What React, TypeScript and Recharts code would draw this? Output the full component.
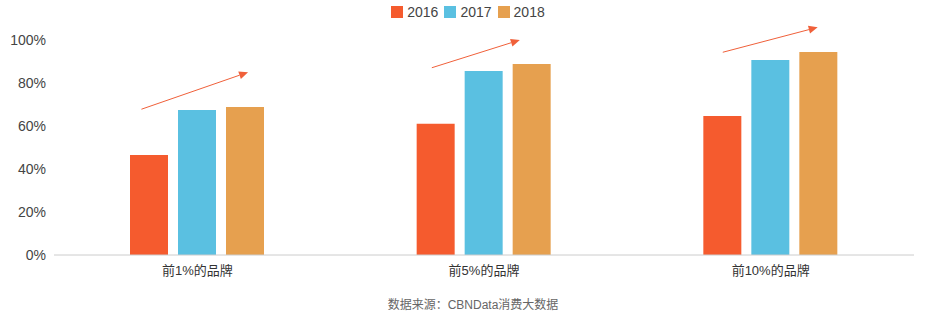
import { BarChart, Bar, XAxis, YAxis, Legend, ReferenceLine } from 'recharts';

const categories = ['前1%的品牌', '前5%的品牌', '前10%的品牌'];
const values2016 = [46.5, 61, 64.7];
const values2017 = [67.4, 85.6, 90.7];
const values2018 = [68.8, 88.8, 94.4];
const yTicks = [0, 20, 40, 60, 80, 100];

// trend arrows: [x1, y1, x2, y2] on a hidden 0..3 numeric axis / percent axis
const arrows = [
  [0.305, 67.8, 0.677, 85.0],
  [1.318, 87.1, 1.625, 100],
  [2.333, 94.3, 2.664, 105.9],
];

const data = categories.map((name, i) => ({
  name,
  pos: i + 0.5,
  y2016: values2016[i],
  y2017: values2017[i],
  y2018: values2018[i],
}));

const font = '"Liberation Sans", Arial, "Noto Sans CJK SC", sans-serif';

function Arrow(props: any) {
  const { x1, y1, x2, y2 } = props;
  const ang = Math.atan2(y2 - y1, x2 - x1);
  const len = 9;
  const w = 4;
  const bx = x2 - len * Math.cos(ang);
  const by = y2 - len * Math.sin(ang);
  const px = -Math.sin(ang) * w;
  const py = Math.cos(ang) * w;
  return (
    <g>
      <line x1={x1} y1={y1} x2={bx} y2={by} stroke="#f0603a" strokeWidth={1} />
      <polygon points={`${x2},${y2} ${bx + px},${by + py} ${bx - px},${by - py}`} fill="#f0603a" />
    </g>
  );
}

function LegendBox(props: any) {
  const { payload = [] } = props;
  return (
    <div style={{ display: 'flex', justifyContent: 'center', gap: 6, fontFamily: font, fontSize: 14, color: '#444', paddingLeft: 2 }}>
      {payload.map((p: any) => (
        <div key={p.value} style={{ display: 'flex', alignItems: 'center' }}>
          <span style={{ width: 12, height: 12, background: p.color, marginRight: 4, display: 'inline-block' }} />
          <span>{p.value}</span>
        </div>
      ))}
    </div>
  );
}

export default function App() {
  return (
    <div style={{ position: 'absolute', left: 0, top: 0, width: 934, height: 329, background: '#fff', fontFamily: font }}>
      <BarChart
        width={934}
        height={290}
        data={data}
        margin={{ top: 24, right: 20, left: 0, bottom: 5 }}
        barSize={38}
        barGap={10}
      >
        <XAxis
          dataKey="name"
          xAxisId="cat"
          height={30}
          axisLine={{ stroke: '#cccccc' }}
          tickLine={false}
          tick={{ fontSize: 13, fill: '#333', fontFamily: font, dy: 3 }}
        />
        <XAxis xAxisId="num" dataKey="pos" type="number" domain={[0, 3]} allowDataOverflow hide />
        <YAxis
          width={54}
          domain={[0, 100]}
          ticks={yTicks}
          axisLine={false}
          tickLine={false}
          tickFormatter={(v) => `${v}%`}
          tick={{ fontSize: 14, fill: '#444', fontFamily: font }}
        />
        <Legend verticalAlign="top" wrapperStyle={{ top: 4, left: 0, width: 934 }} content={LegendBox} />
        <Bar xAxisId="cat" dataKey="y2016" name="2016" fill="#f55b2e" isAnimationActive={false} />
        <Bar xAxisId="cat" dataKey="y2017" name="2017" fill="#5ac0e1" isAnimationActive={false} />
        <Bar xAxisId="cat" dataKey="y2018" name="2018" fill="#e6a04f" isAnimationActive={false} />
        {arrows.map((a, i) => (
          <ReferenceLine
            key={i}
            xAxisId="num"
            ifOverflow="visible"
            segment={[{ x: a[0], y: a[1] }, { x: a[2], y: a[3] }]}
            shape={Arrow}
          />
        ))}
      </BarChart>
      <div style={{ position: 'absolute', top: 295, left: 0, width: 934, textAlign: 'center', fontSize: 12, color: '#666', paddingLeft: 6 }}>
        数据来源：CBNData消费大数据
      </div>
    </div>
  );
}
